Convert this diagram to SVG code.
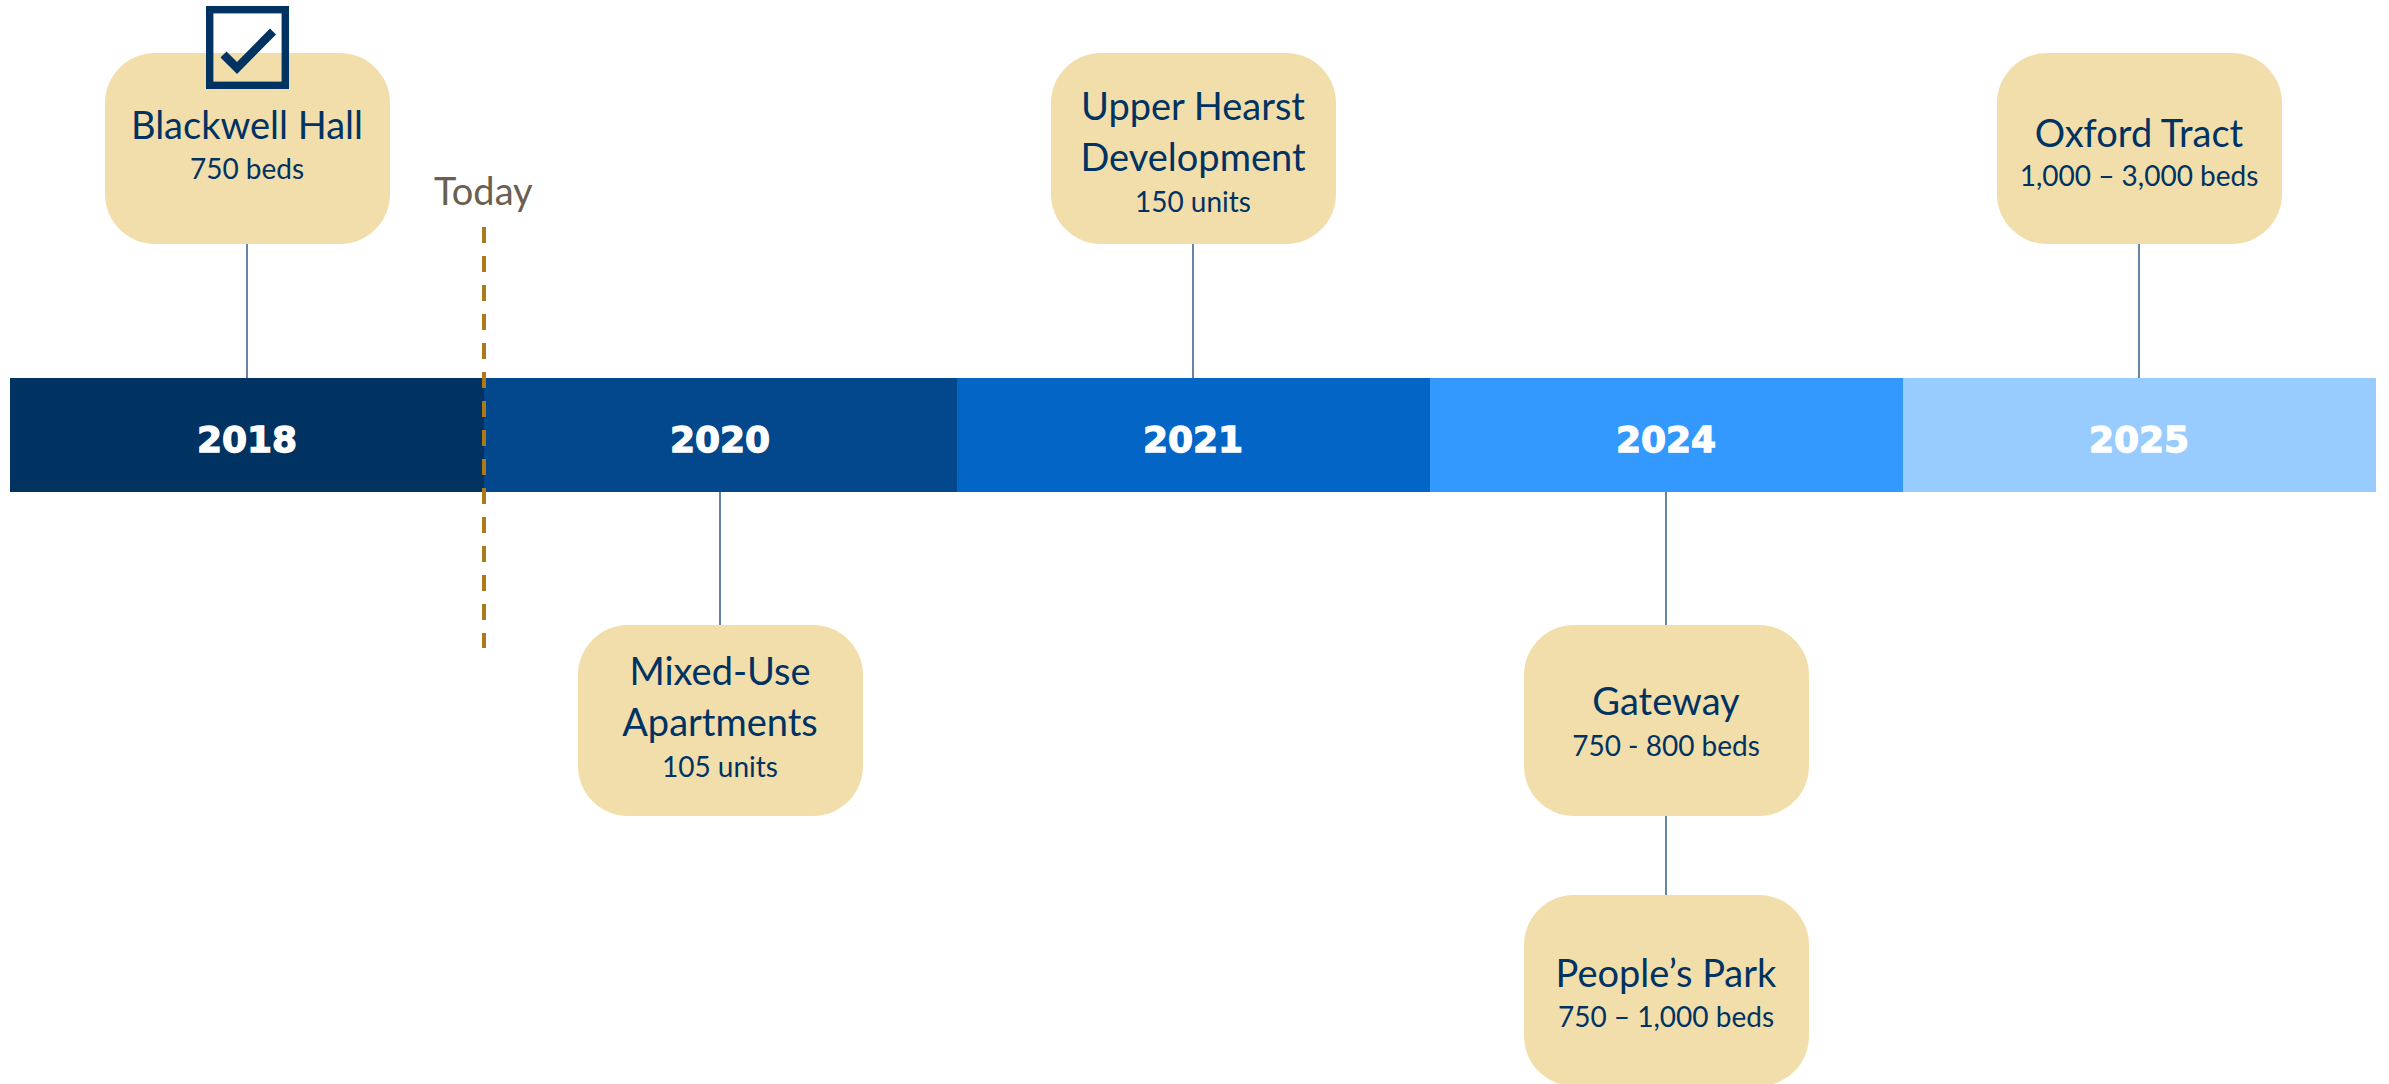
<svg xmlns="http://www.w3.org/2000/svg" width="2389" height="1084" viewBox="0 0 2389 1084">
<style>
.node rect.box{fill:#F2DEAB}
.t{font-family:Lato,"Liberation Sans",sans-serif;fill:#003262;text-anchor:middle}
.title{font-size:38px}
.sub{font-size:28px}
.yr{font-family:"DejaVu Sans","Liberation Sans",sans-serif;font-weight:bold;font-size:36px;fill:#FFFFFF;stroke:#FFFFFF;stroke-width:1.3;text-anchor:middle}
.conn line{stroke:#3F6690;stroke-width:1.6}
</style>
<rect width="2389" height="1084" fill="#FFFFFF"/>
<g id="timeline">
<rect x="10" y="378" width="474" height="114" fill="#003262"/>
<rect x="484" y="378" width="473" height="114" fill="#03488C"/>
<rect x="957" y="378" width="473" height="114" fill="#0366C6"/>
<rect x="1430" y="378" width="473" height="114" fill="#3399FE"/>
<rect x="1903" y="378" width="473" height="114" fill="#99CCFE"/>
<text class="yr" x="247" y="452">2018</text>
<text class="yr" x="720" y="452">2020</text>
<text class="yr" x="1193" y="452">2021</text>
<text class="yr" x="1666" y="452">2024</text>
<text class="yr" x="2139" y="452">2025</text>
</g>
<g id="connectors" class="conn">
<line x1="247" y1="244" x2="247" y2="378"/>
<line x1="720" y1="492" x2="720" y2="625"/>
<line x1="1193" y1="244" x2="1193" y2="378"/>
<line x1="1666" y1="492" x2="1666" y2="625"/>
<line x1="1666" y1="816" x2="1666" y2="895"/>
<line x1="2139" y1="244" x2="2139" y2="378"/>
</g>
<g id="today">
<line x1="484" y1="227" x2="484" y2="648" stroke="#AD7A19" stroke-width="4" stroke-dasharray="16 13"/>
<text x="434" y="205" font-family="Lato,'Liberation Sans',sans-serif" font-size="38" fill="#6B604F">Today</text>
</g>
<g id="node-blackwell" class="node">
<rect class="box" x="105" y="53" width="285" height="191" rx="50"/>
<text class="t title" x="247" y="139">Blackwell Hall</text>
<text class="t sub" x="247" y="179">750 beds</text>
<rect x="209.7" y="9.7" width="75.6" height="75.6" fill="none" stroke="#003262" stroke-width="7.4"/>
<polyline points="223.5,54.5 237,68 273,31.5" fill="none" stroke="#003262" stroke-width="8.5"/>
</g>
<g id="node-mixed-use" class="node">
<rect class="box" x="578" y="625" width="285" height="191" rx="50"/>
<text class="t title" x="720" y="685">Mixed-Use</text>
<text class="t title" x="720" y="736">Apartments</text>
<text class="t sub" x="720" y="777">105 units</text>
</g>
<g id="node-upper-hearst" class="node">
<rect class="box" x="1051" y="53" width="285" height="191" rx="50"/>
<text class="t title" x="1193" y="120">Upper Hearst</text>
<text class="t title" x="1193" y="171">Development</text>
<text class="t sub" x="1193" y="212">150 units</text>
</g>
<g id="node-gateway" class="node">
<rect class="box" x="1524" y="625" width="285" height="191" rx="50"/>
<text class="t title" x="1666" y="715">Gateway</text>
<text class="t sub" x="1666" y="756">750 - 800 beds</text>
</g>
<g id="node-peoples-park" class="node">
<rect class="box" x="1524" y="895" width="285" height="191" rx="50"/>
<text class="t title" x="1666" y="987">People’s Park</text>
<text class="t sub" x="1666" y="1027">750 – 1,000 beds</text>
</g>
<g id="node-oxford" class="node">
<rect class="box" x="1997" y="53" width="285" height="191" rx="50"/>
<text class="t title" x="2139" y="147">Oxford Tract</text>
<text class="t sub" x="2139" y="186">1,000 – 3,000 beds</text>
</g>
</svg>
